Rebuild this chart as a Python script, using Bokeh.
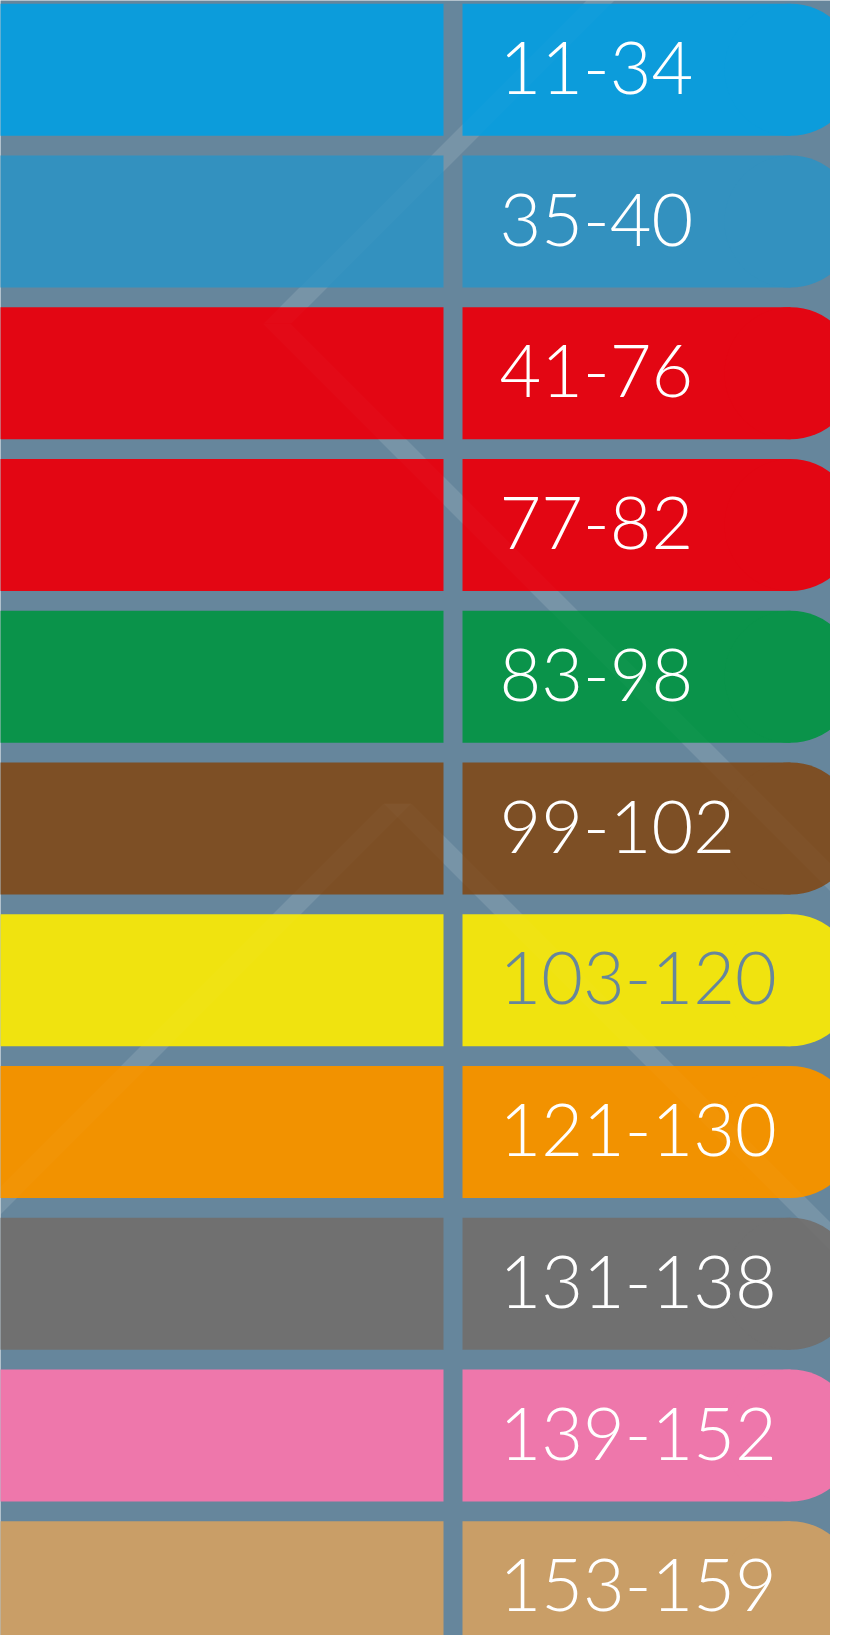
from bokeh.plotting import figure
from bokeh.models import Range1d, ColumnDataSource
from bokeh.core.properties import value
from bokeh.embed import file_html
from bokeh.resources import INLINE

# ---- data ----
labels = ["11-34", "35-40", "41-76", "77-82", "83-98", "99-102",
          "103-120", "121-130", "131-138", "139-152", "153-159"]
bar_colors = ["#0C9CDB", "#3391BF", "#E30613", "#E30613", "#0A934A", "#7D4F25",
              "#F0E30F", "#F29200", "#707070", "#EE77AB", "#C99E67"]
text_colors = ["#FFFFFF", "#FFFFFF", "#FFFFFF", "#FFFFFF", "#FFFFFF", "#FFFFFF",
               "#66869C", "#FFFFFF", "#FFFFFF", "#FFFFFF", "#FFFFFF"]

# decorative diagonal light bands: (slope, intercept, y_start, y_end)
bands = [(-1, 600, -20, 323), (1, -47, 323, 900),
         (1, -406, 803, 1270), (-1, 1200, 803, 1230)]

# ---- layout (reference pixel space) ----
BG = "#66869C"
ROW0, PITCH, H = 3.3, 151.75, 132.0
LEFT_R, RIGHT_L, CAP_X = 443.0, 462.0, 790.0
TEXT_X, TEXT_DY = 499.0, -2.0
HW = 14.0

n = len(labels)
tops = [ROW0 + i * PITCH for i in range(n)]
bots = [t + H for t in tops]
mids = [t + H / 2 for t in tops]
tys = [m + TEXT_DY for m in mids]

src = ColumnDataSource(dict(top=tops, bottom=bots, mid=mids, ty=tys,
                            color=bar_colors, tcolor=text_colors, label=labels,
                            left0=[-30.0] * n, right0=[LEFT_R] * n,
                            left1=[RIGHT_L] * n, right1=[CAP_X] * n,
                            capx=[CAP_X] * n, capw=[H] * n, caph=[H] * n,
                            tx=[TEXT_X] * n))

bx, by = [], []
for s, c, y0, y1 in bands:
    bx.append([s * y0 + c - HW, s * y0 + c + HW, s * y1 + c + HW, s * y1 + c - HW])
    by.append([y0, y0, y1, y1])

p = figure(width=830, height=1635, x_range=Range1d(0, 830), y_range=Range1d(1635, 0),
           output_backend="svg", toolbar_location=None, min_border=0,
           x_axis_location=None, y_axis_location=None,
           background_fill_color=BG, border_fill_color=BG, outline_line_color=None)
p.xgrid.visible = False
p.ygrid.visible = False

p.patches(bx, by, fill_color="white", fill_alpha=0.1, line_color=None)

p.quad(left="left0", right="right0", top="top", bottom="bottom", source=src,
       fill_color="color", line_color=None)
p.quad(left="left1", right="right1", top="top", bottom="bottom", source=src,
       fill_color="color", line_color=None)
p.ellipse(x="capx", y="mid", width="capw", height="caph", source=src,
          fill_color="color", line_color=None)

p.patches(bx, by, fill_color="white", fill_alpha=0.02, line_color=None)

p.text(x="tx", y="ty", text="label", source=src, text_color="tcolor",
       text_font=value("Lato Light"), text_font_size="72px",
       text_baseline="middle", text_align="left")

open("out.html", "w").write(file_html(p, INLINE))
